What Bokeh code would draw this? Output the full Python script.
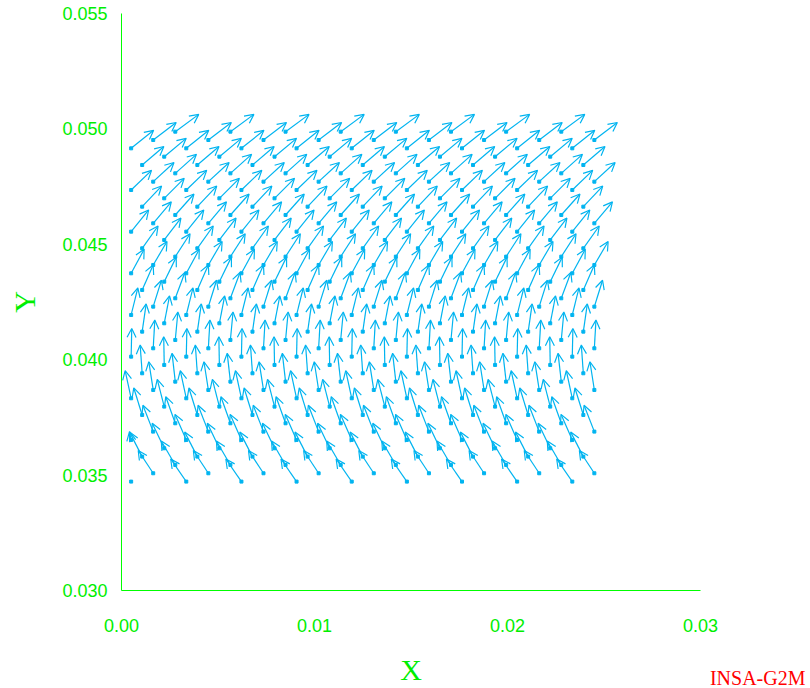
from bokeh.plotting import figure
from bokeh.models import (Arrow, OpenHead, ColumnDataSource, Range1d, FixedTicker,
                          PrintfTickFormatter, Title)
from bokeh.embed import file_html
from bokeh.resources import INLINE

# ---- data (mm) ----
# x positions of the mesh columns
COL_X_MM = [0.500, 1.071, 1.643, 2.214, 2.786, 3.357, 3.929, 4.500, 5.071, 5.643,
            6.214, 6.786, 7.357, 7.929, 8.500, 9.071, 9.643, 10.214, 10.786, 11.357,
            11.929, 12.500, 13.071, 13.643, 14.214, 14.786, 15.357, 15.929, 16.500, 17.071,
            17.643, 18.214, 18.786, 19.357, 19.929, 20.500, 21.071, 21.643, 22.214, 22.786,
            23.357, 23.929, 24.500]
# y levels of the mesh (top to bottom)
LEVEL_Y_MM = [49.880, 49.519, 49.158, 48.797, 48.436, 48.075, 47.714, 47.353, 46.992, 46.631,
              46.270, 45.909, 45.548, 45.187, 44.826, 44.465, 44.104, 43.743, 43.382, 43.021,
              42.660, 42.299, 41.938, 41.577, 41.216, 40.855, 40.494, 40.133, 39.772, 39.411,
              39.050, 38.689, 38.328, 37.967, 37.606, 37.245, 36.884, 36.523, 36.162, 35.801,
              35.440, 35.079, 34.718]
# vector components at each level (mm in plot units)
U_MM = [1.218, 1.192, 1.166, 1.140, 1.124, 1.098, 1.078, 1.057, 1.036, 1.005,
        0.969, 0.938, 0.907, 0.865, 0.824, 0.767, 0.715, 0.674, 0.622, 0.570,
        0.497, 0.425, 0.347, 0.275, 0.207, 0.135, 0.083, 0.031, -0.026, -0.104,
        -0.166, -0.228, -0.311, -0.363, -0.435, -0.492, -0.534, -0.585, -0.622, -0.653,
        -0.725, -0.777, -0.808]
V_MM = [0.750, 0.758, 0.780, 0.793, 0.802, 0.823, 0.832, 0.849, 0.867, 0.893,
        0.910, 0.927, 0.940, 0.949, 0.966, 0.992, 1.018, 1.040, 1.062, 1.083,
        1.118, 1.144, 1.170, 1.187, 1.200, 1.213, 1.222, 1.222, 1.222, 1.226,
        1.226, 1.222, 1.196, 1.183, 1.170, 1.153, 1.144, 1.109, 1.083, 1.062,
        1.040, 0.988, 0.979]
# nodes on the left edge whose vectors differ: (column, level, u, v)
EDGE_NODES = [(0, 37, -0.088, 0.360), (0, 42, 0.0, 0.0)]

X_TICKS = [0.00, 0.01, 0.02, 0.03]
Y_TICKS = [0.030, 0.035, 0.040, 0.045, 0.050, 0.055]
LOGO = "INSA-G2M"

assert len(U_MM) == len(V_MM) == len(LEVEL_Y_MM)

special = {(c, l): (u, v) for c, l, u, v in EDGE_NODES}
xs, ys, xe, ye = [], [], [], []
px, py = [], []
for i, xm in enumerate(COL_X_MM):
    for j, ym in enumerate(LEVEL_Y_MM):
        if (j - 2 * i - 2) % 5 != 0:
            continue
        u, v = special.get((i, j), (U_MM[j], V_MM[j]))
        x0, y0 = xm / 1000.0, ym / 1000.0
        px.append(x0)
        py.append(y0)
        if u == 0 and v == 0:
            continue
        xs.append(x0)
        ys.append(y0)
        xe.append(x0 + u / 1000.0)
        ye.append(y0 + v / 1000.0)

BLUE = "#00b4f0"
GREEN = "#00ee00"

p = figure(width=806, height=688, x_range=Range1d(0, 0.03), y_range=Range1d(0.03, 0.055),
           output_backend="svg", toolbar_location=None,
           min_border_left=121, min_border_right=106, min_border_top=13, min_border_bottom=95)
p.outline_line_color = None
p.grid.visible = False

src = ColumnDataSource(dict(xs=xs, ys=ys, xe=xe, ye=ye))
arrows = Arrow(x_start="xs", y_start="ys", x_end="xe", y_end="ye", source=src,
               line_color=BLUE, line_width=1.2,
               end=OpenHead(size=9, line_color=BLUE, line_width=1.2))
p.add_layout(arrows)
p.scatter(px, py, marker="square", size=3, color=BLUE)

for ax in (p.xaxis[0], p.yaxis[0]):
    ax.axis_line_color = "#00ff00"
    ax.axis_line_width = 1
    ax.major_tick_line_color = None
    ax.minor_tick_line_color = None
    ax.major_tick_out = 0
    ax.major_tick_in = 0
    ax.minor_tick_out = 0
    ax.major_label_text_color = GREEN
    ax.major_label_text_font = "Liberation Sans"
    ax.major_label_text_font_size = "18px"
    ax.axis_label_text_color = GREEN
    ax.axis_label_text_font = "Liberation Serif"
    ax.axis_label_text_font_style = "normal"
    ax.axis_label_text_font_size = "30px"

p.xaxis.ticker = FixedTicker(ticks=X_TICKS)
p.xaxis.formatter = PrintfTickFormatter(format="%.2f")
p.xaxis.major_label_standoff = 28
p.xaxis.axis_label = "X"
p.xaxis.axis_label_standoff = 18

p.yaxis.ticker = FixedTicker(ticks=Y_TICKS)
p.yaxis.formatter = PrintfTickFormatter(format="%.3f")
p.yaxis.major_label_standoff = 14
p.yaxis.axis_label = "Y"
p.yaxis.axis_label_standoff = 18

# signature below the axis, pushed to the right edge of the page
sig = Title(text=LOGO, align="right", offset=-105, vertical_align="top", standoff=-44,
            text_color="red", text_font="Liberation Serif", text_font_style="normal",
            text_font_size="20px")
p.add_layout(sig, "below")

open("out.html", "w").write(file_html(p, INLINE))
